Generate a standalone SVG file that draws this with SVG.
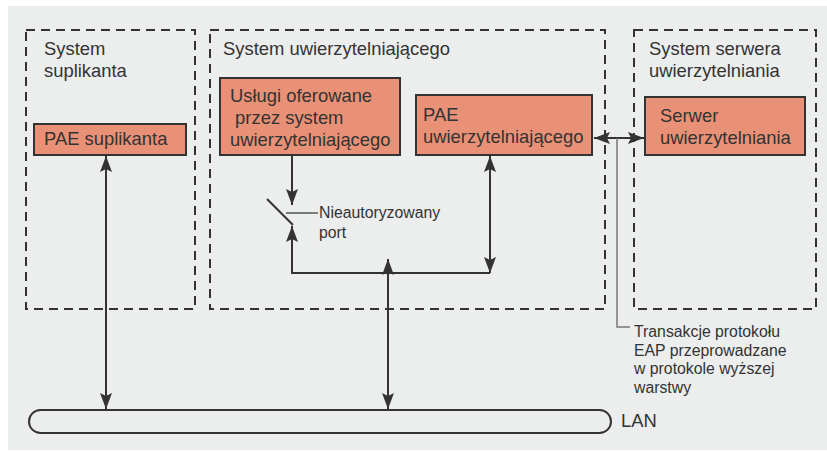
<svg xmlns="http://www.w3.org/2000/svg" width="827" height="452" viewBox="0 0 827 452">
<defs>
<style>
.bg{fill:#ECEDED}
.zone{fill:none;stroke:#333;stroke-width:2;stroke-dasharray:9 6}
.box{fill:#E99176;stroke:#333;stroke-width:2}
.t{font-family:"Liberation Sans",Arial,sans-serif;font-size:18.4px;fill:#333}
.s{font-family:"Liberation Sans",Arial,sans-serif;font-size:15.8px;fill:#333}
.c{fill:none;stroke:#333;stroke-width:2}
.g{fill:none;stroke:#777;stroke-width:1.5}
</style>
<marker id="ah" viewBox="0 0 16 12" refX="16" refY="6" markerWidth="16" markerHeight="12" markerUnits="userSpaceOnUse" orient="auto-start-reverse">
<path d="M0,0 L16,6 L0,12 L3,6 Z" fill="#333"/>
</marker>
</defs>
<rect class="bg" x="8" y="6" width="819" height="444"/>
<g id="zone-suplikant">
<rect class="zone" x="26" y="30" width="169" height="279"/>
<text class="t" x="44" y="55">System</text>
<text class="t" x="44" y="77">suplikanta</text>
</g>
<g id="zone-uwierzytelniajacy">
<rect class="zone" x="210" y="30" width="395" height="279"/>
<text class="t" x="223" y="55">System uwierzytelniającego</text>
</g>
<g id="zone-serwer">
<rect class="zone" x="634" y="30" width="182" height="279"/>
<text class="t" x="649" y="55">System serwera</text>
<text class="t" x="649" y="77">uwierzytelniania</text>
</g>
<g id="lan">
<rect x="29" y="410" width="582" height="23" rx="11.5" ry="11.5" fill="#ECEDED" stroke="#333" stroke-width="2"/>
<text class="t" x="621" y="427">LAN</text>
</g>
<g id="pae-suplikanta">
<rect class="box" x="34" y="124" width="152" height="31"/>
<text class="t" x="44" y="145">PAE suplikanta</text>
</g>
<g id="uslugi">
<rect class="box" x="220" y="78" width="180" height="77"/>
<text class="t" x="230" y="102">Usługi oferowane</text>
<text class="t" x="230" y="124" xml:space="preserve"> przez system</text>
<text class="t" x="230" y="146">uwierzytelniającego</text>
</g>
<g id="pae-uwierzytelniajacego">
<rect class="box" x="416" y="95" width="176" height="60"/>
<text class="t" x="423" y="121">PAE</text>
<text class="t" x="423" y="143">uwierzytelniającego</text>
</g>
<g id="serwer">
<rect class="box" x="645" y="97" width="160" height="58"/>
<text class="t" x="660" y="122">Serwer</text>
<text class="t" x="660" y="144">uwierzytelniania</text>
</g>
<g id="port">
<line class="c" x1="267" y1="199" x2="293" y2="225"/>
<line x1="286" y1="213" x2="318" y2="213" stroke="#555" stroke-width="1.5"/>
<text class="s" x="319" y="218">Nieautoryzowany</text>
<text class="s" x="319" y="238">port</text>
</g>
<g id="connectors">
<line class="c" x1="106" y1="156" x2="106" y2="409" marker-start="url(#ah)" marker-end="url(#ah)"/>
<line class="c" x1="292" y1="156" x2="292" y2="205" marker-end="url(#ah)"/>
<path class="c" d="M490,273 H292 V226" marker-end="url(#ah)"/>
<line class="c" x1="490" y1="156" x2="490" y2="273" marker-start="url(#ah)" marker-end="url(#ah)"/>
<line class="c" x1="388" y1="259" x2="388" y2="409" marker-start="url(#ah)" marker-end="url(#ah)"/>
<line class="c" x1="594" y1="138" x2="644" y2="138" marker-start="url(#ah)" marker-end="url(#ah)"/>
<path class="g" d="M617,138 V327 H630"/>
</g>
<g id="callout">
<text class="s" x="634" y="337">Transakcje protokołu</text>
<text class="s" x="634" y="355.5">EAP przeprowadzane</text>
<text class="s" x="634" y="374">w protokole wyższej</text>
<text class="s" x="634" y="392.5">warstwy</text>
</g>
</svg>
